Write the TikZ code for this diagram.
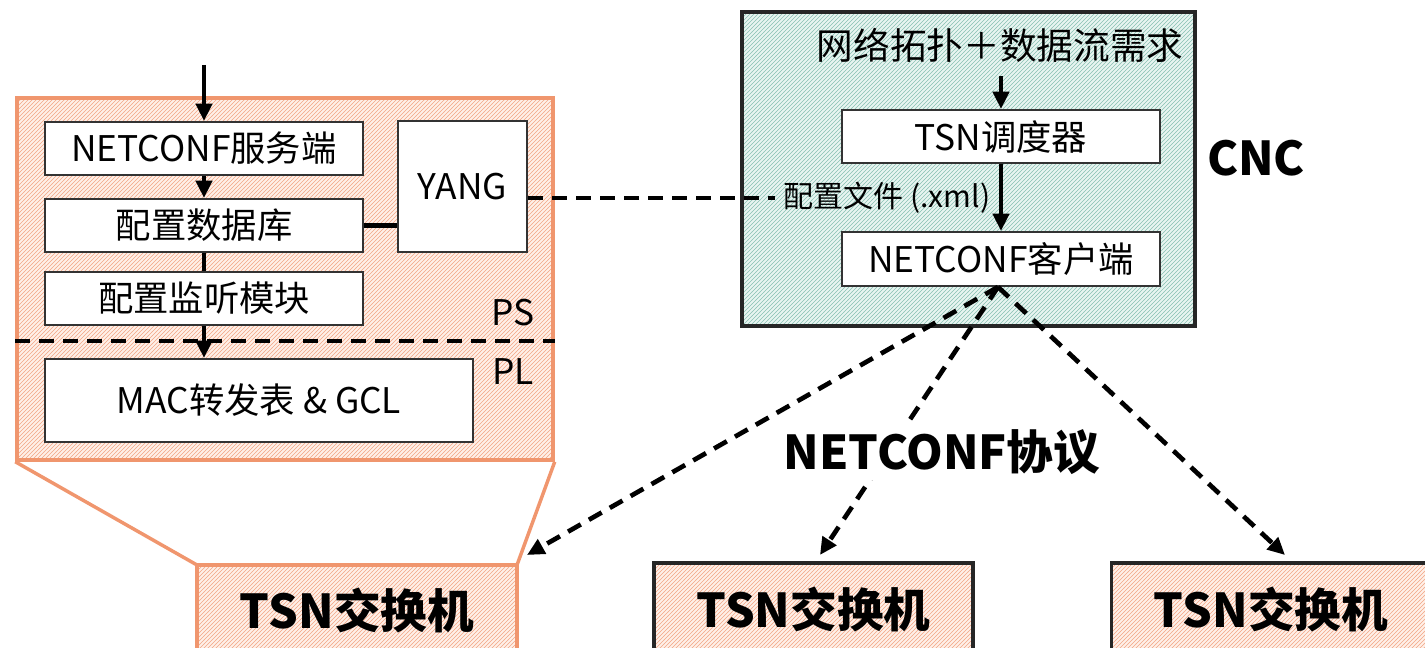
\documentclass[tikz,border=0pt]{standalone}
\usepackage{fontspec}
\setmainfont{Noto Sans CJK SC}
\usetikzlibrary{arrows.meta,patterns,calc}
\definecolor{zorange}{RGB}{240,150,110}
\definecolor{zhatch}{RGB}{242,165,132}
\definecolor{zbase}{RGB}{255,240,232}
\definecolor{cteal}{RGB}{135,192,178}
\definecolor{cbase}{RGB}{232,245,241}
\tikzset{
  txt/.style={font=\fontsize{26.5}{30}\selectfont},
  bigtxt/.style={font=\fontsize{35}{40}\selectfont\bfseries},
  box/.style={draw=black!80, line width=1.5pt, fill=white, txt},
  orangehatch/.style={preaction={fill=zbase}, pattern=north east lines, pattern color=zhatch},
  tealhatch/.style={preaction={fill=cbase}, pattern=north east lines, pattern color=cteal},
  flow/.style={line width=3.2pt, -{Triangle[length=13pt,width=12pt]}},
  link/.style={line width=3.2pt},
  dashlink/.style={line width=3.5pt, dash pattern=on 11pt off 7pt},
  dasharrow/.style={dashlink, -{Triangle[length=13pt,width=12pt]}}
}
\begin{document}
\begin{tikzpicture}[x=0.75pt,y=-0.75pt, every node/.style={inner sep=0pt}]
\useasboundingbox (0,0) rectangle (1425,648);
\clip (0,0) rectangle (1425,648);

% ---- switch internals (PS / PL) ----
\node[draw=zorange, line width=2.6pt, orangehatch, minimum width=402pt, minimum height=271.5pt] (sw) at (285,279) {};
\draw[zorange, line width=2.6pt] (sw.south west) -- (197,565);
\draw[zorange, line width=2.6pt] (sw.south east) -- (517,565);

\node[box, minimum width=238.5pt, minimum height=39.75pt] (srv) at (204,148.5) {NETCONF服务端};
\node[box, minimum width=238.5pt, minimum height=39.75pt] (db)  at (204,225.5) {配置数据库};
\node[box, minimum width=238.5pt, minimum height=39.75pt] (mon) at (204,298.5) {配置监听模块};
\node[box, minimum width=96.75pt, minimum height=98.25pt] (yang) at (462.5,186.5) {YANG};
\node[box, minimum width=321pt, minimum height=62.25pt] (mac) at (259,400.5) {MAC转发表 \& GCL};

\node[txt] (ps) at (513,313) {PS};
\node[txt] (pl) at (513,372) {PL};

\draw[dashlink] (sw.west |- 0,341) -- (sw.east |- 0,341);

\coordinate (in) at (204,65);
\draw[flow] (in) -- (srv.north);
\draw[flow] (srv.south) -- (db.north);
\draw[link] (db.south) -- (mon.north);
\draw[flow] (mon.south) -- (mon.south |- mac.north);
\draw[link] (db.east) -- (db.east -| yang.west);

% ---- CNC ----
\node[draw=black!85, line width=2.6pt, tealhatch, minimum width=339.75pt, minimum height=235.5pt] (cncbox) at (968.5,169) {};
\node[font=\fontsize{27.5}{31}\selectfont] (req) at (1000,45) {网络拓扑＋数据流需求};
\node[box, minimum width=238.5pt, minimum height=39.75pt] (sched) at (1001,136.5) {TSN调度器};
\node[box, minimum width=238.5pt, minimum height=40.5pt] (cli) at (1001,259) {NETCONF客户端};
\node[font=\fontsize{22.5}{26}\selectfont] (cfg) at (887,198) {配置文件 (.xml)};
\node[bigtxt] (cnc) at (1256,158) {CNC};

\coordinate (reqout) at (1001,76);
\draw[flow] (reqout) -- (sched.north);
\draw[flow] (sched.south) -- (cli.north);
\draw[dashlink] (yang.east |- cfg.west) -- ([xshift=-6pt]cfg.west);

% ---- switches ----
\node[draw=zorange, line width=2.6pt, orangehatch, minimum width=240pt, minimum height=67.5pt, bigtxt] (sw1) at (357,610) {TSN交换机};
\node[draw=black!85, line width=2.6pt, orangehatch, minimum width=239.25pt, minimum height=69pt, bigtxt] (sw2) at (813.5,609) {TSN交换机};
\node[draw=black!85, line width=2.6pt, orangehatch, minimum width=239.25pt, minimum height=69pt, bigtxt] (sw3) at (1271,609) {TSN交换机};

\coordinate (t1) at (527,555);
\coordinate (t2) at (820,555);
\coordinate (t3) at (1285,555);
\coordinate (c0) at ($(cli.south)+(-3,0)$);
\draw[dasharrow] (c0) -- (t1);
\draw[dasharrow] (c0) -- (t2);
\draw[dasharrow] (c0) -- (t3);
\node[bigtxt, fill=white, inner xsep=3pt, inner ysep=4pt] (proto) at (942,452) {NETCONF协议};
\end{tikzpicture}
\end{document}
